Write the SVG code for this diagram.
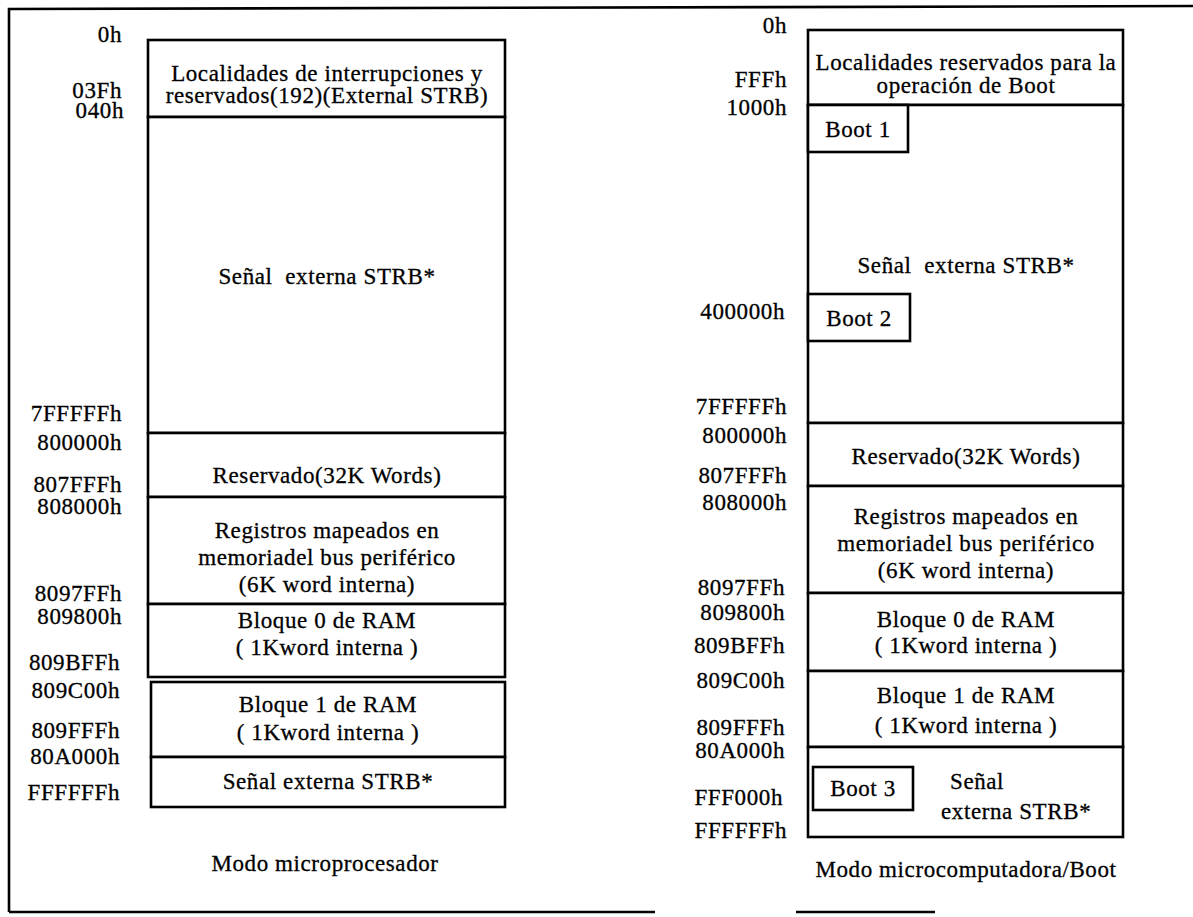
<svg xmlns="http://www.w3.org/2000/svg" width="1193" height="917" viewBox="0 0 1193 917">
  <style>
    text { font-family: "Liberation Serif", "Times New Roman", serif; font-size: 23px; letter-spacing: 0.6px; fill: #000; stroke: #000; stroke-width: 0.3px; }
    .c { text-anchor: middle; }
    .a { text-anchor: end; }
    .box { fill: #fff; stroke: #000; stroke-width: 2.6; }
    .frame { fill: none; stroke: #000; stroke-width: 2.6; }
  </style>
  <rect width="1193" height="917" fill="#fff"/>

  <!-- page frame -->
  <g id="frame">
    <path class="frame" d="M9 912 V9 L1193 6"/>
    <path class="frame" d="M9 912 H655 M796 912 H935"/>
  </g>

  <!-- left map: microprocessor mode -->
  <g id="left-map">
    <g id="l-vectores">
      <rect class="box" x="148" y="40" width="357" height="77"/>
      <text class="c" x="327" y="81">Localidades de interrupciones y</text>
      <text class="c" x="327" y="103">reservados(192)(External STRB)</text>
    </g>
    <g id="l-externa">
      <rect class="box" x="148" y="117" width="357" height="316"/>
      <text class="c" x="327" y="284" xml:space="preserve">Señal  externa STRB*</text>
    </g>
    <g id="l-reservado">
      <rect class="box" x="148" y="433" width="357" height="64"/>
      <text class="c" x="327" y="483">Reservado(32K Words)</text>
    </g>
    <g id="l-registros">
      <rect class="box" x="148" y="497" width="357" height="107"/>
      <text class="c" x="327" y="538">Registros mapeados en</text>
      <text class="c" x="327" y="565">memoriadel bus periférico</text>
      <text class="c" x="327" y="592">(6K word interna)</text>
    </g>
    <g id="l-bloque0">
      <rect class="box" x="148" y="604" width="357" height="73"/>
      <text class="c" x="327" y="628">Bloque 0 de RAM</text>
      <text class="c" x="327" y="655" xml:space="preserve">( 1Kword interna )</text>
    </g>
    <g id="l-bloque1">
      <rect class="box" x="151" y="682" width="354" height="75"/>
      <text class="c" x="328" y="712">Bloque 1 de RAM</text>
      <text class="c" x="328" y="740" xml:space="preserve">( 1Kword interna )</text>
    </g>
    <g id="l-externa2">
      <rect class="box" x="151" y="757" width="354" height="50"/>
      <text class="c" x="328" y="789">Señal externa STRB*</text>
    </g>
    <g id="l-direcciones">
      <text class="a" x="122" y="42">0h</text>
      <text class="a" x="122" y="98">03Fh</text>
      <text class="a" x="124" y="118">040h</text>
      <text class="a" x="122" y="421">7FFFFFh</text>
      <text class="a" x="122" y="450">800000h</text>
      <text class="a" x="122" y="492">807FFFh</text>
      <text class="a" x="122" y="514">808000h</text>
      <text class="a" x="122" y="601">8097FFh</text>
      <text class="a" x="122" y="624">809800h</text>
      <text class="a" x="120" y="670">809BFFh</text>
      <text class="a" x="120" y="698">809C00h</text>
      <text class="a" x="120" y="738">809FFFh</text>
      <text class="a" x="120" y="764">80A000h</text>
      <text class="a" x="120" y="800">FFFFFFh</text>
    </g>
    <text id="l-titulo" class="c" x="325" y="871">Modo microprocesador</text>
  </g>

  <!-- right map: microcomputer / boot mode -->
  <g id="right-map">
    <g id="r-boot">
      <rect class="box" x="808" y="30" width="315" height="75"/>
      <text class="c" x="966" y="70">Localidades reservados para la</text>
      <text class="c" x="966" y="93">operación de Boot</text>
    </g>
    <g id="r-externa">
      <rect class="box" x="808" y="105" width="315" height="318"/>
      <text class="c" x="966" y="273" xml:space="preserve">Señal  externa STRB*</text>
    </g>
    <g id="r-boot1">
      <rect class="box" x="808" y="105" width="100" height="47"/>
      <text class="c" x="858" y="137">Boot 1</text>
    </g>
    <g id="r-boot2">
      <rect class="box" x="808" y="294" width="102" height="47"/>
      <text class="c" x="859" y="326">Boot 2</text>
    </g>
    <g id="r-reservado">
      <rect class="box" x="808" y="423" width="315" height="63"/>
      <text class="c" x="966" y="464">Reservado(32K Words)</text>
    </g>
    <g id="r-registros">
      <rect class="box" x="808" y="486" width="315" height="107"/>
      <text class="c" x="966" y="524">Registros mapeados en</text>
      <text class="c" x="966" y="551">memoriadel bus periférico</text>
      <text class="c" x="966" y="578">(6K word interna)</text>
    </g>
    <g id="r-bloque0">
      <rect class="box" x="808" y="593" width="315" height="78"/>
      <text class="c" x="966" y="627">Bloque 0 de RAM</text>
      <text class="c" x="966" y="653" xml:space="preserve">( 1Kword interna )</text>
    </g>
    <g id="r-bloque1">
      <rect class="box" x="808" y="671" width="315" height="76"/>
      <text class="c" x="966" y="703">Bloque 1 de RAM</text>
      <text class="c" x="966" y="733" xml:space="preserve">( 1Kword interna )</text>
    </g>
    <g id="r-externa2">
      <rect class="box" x="808" y="747" width="315" height="90"/>
      <text x="950" y="789">Señal</text>
      <text x="941" y="819">externa STRB*</text>
    </g>
    <g id="r-boot3">
      <rect class="box" x="813" y="767" width="100" height="43"/>
      <text class="c" x="863" y="796">Boot 3</text>
    </g>
    <g id="r-direcciones">
      <text class="a" x="787" y="33">0h</text>
      <text class="a" x="787" y="87">FFFh</text>
      <text class="a" x="787" y="115">1000h</text>
      <text class="a" x="785" y="319">400000h</text>
      <text class="a" x="787" y="414">7FFFFFh</text>
      <text class="a" x="787" y="443">800000h</text>
      <text class="a" x="787" y="483">807FFFh</text>
      <text class="a" x="787" y="510">808000h</text>
      <text class="a" x="785" y="595">8097FFh</text>
      <text class="a" x="785" y="620">809800h</text>
      <text class="a" x="785" y="653">809BFFh</text>
      <text class="a" x="785" y="688">809C00h</text>
      <text class="a" x="785" y="735">809FFFh</text>
      <text class="a" x="785" y="758">80A000h</text>
      <text class="a" x="783" y="805">FFF000h</text>
      <text class="a" x="787" y="838">FFFFFFh</text>
    </g>
    <text id="r-titulo" class="c" x="966" y="877">Modo microcomputadora/Boot</text>
  </g>
</svg>
